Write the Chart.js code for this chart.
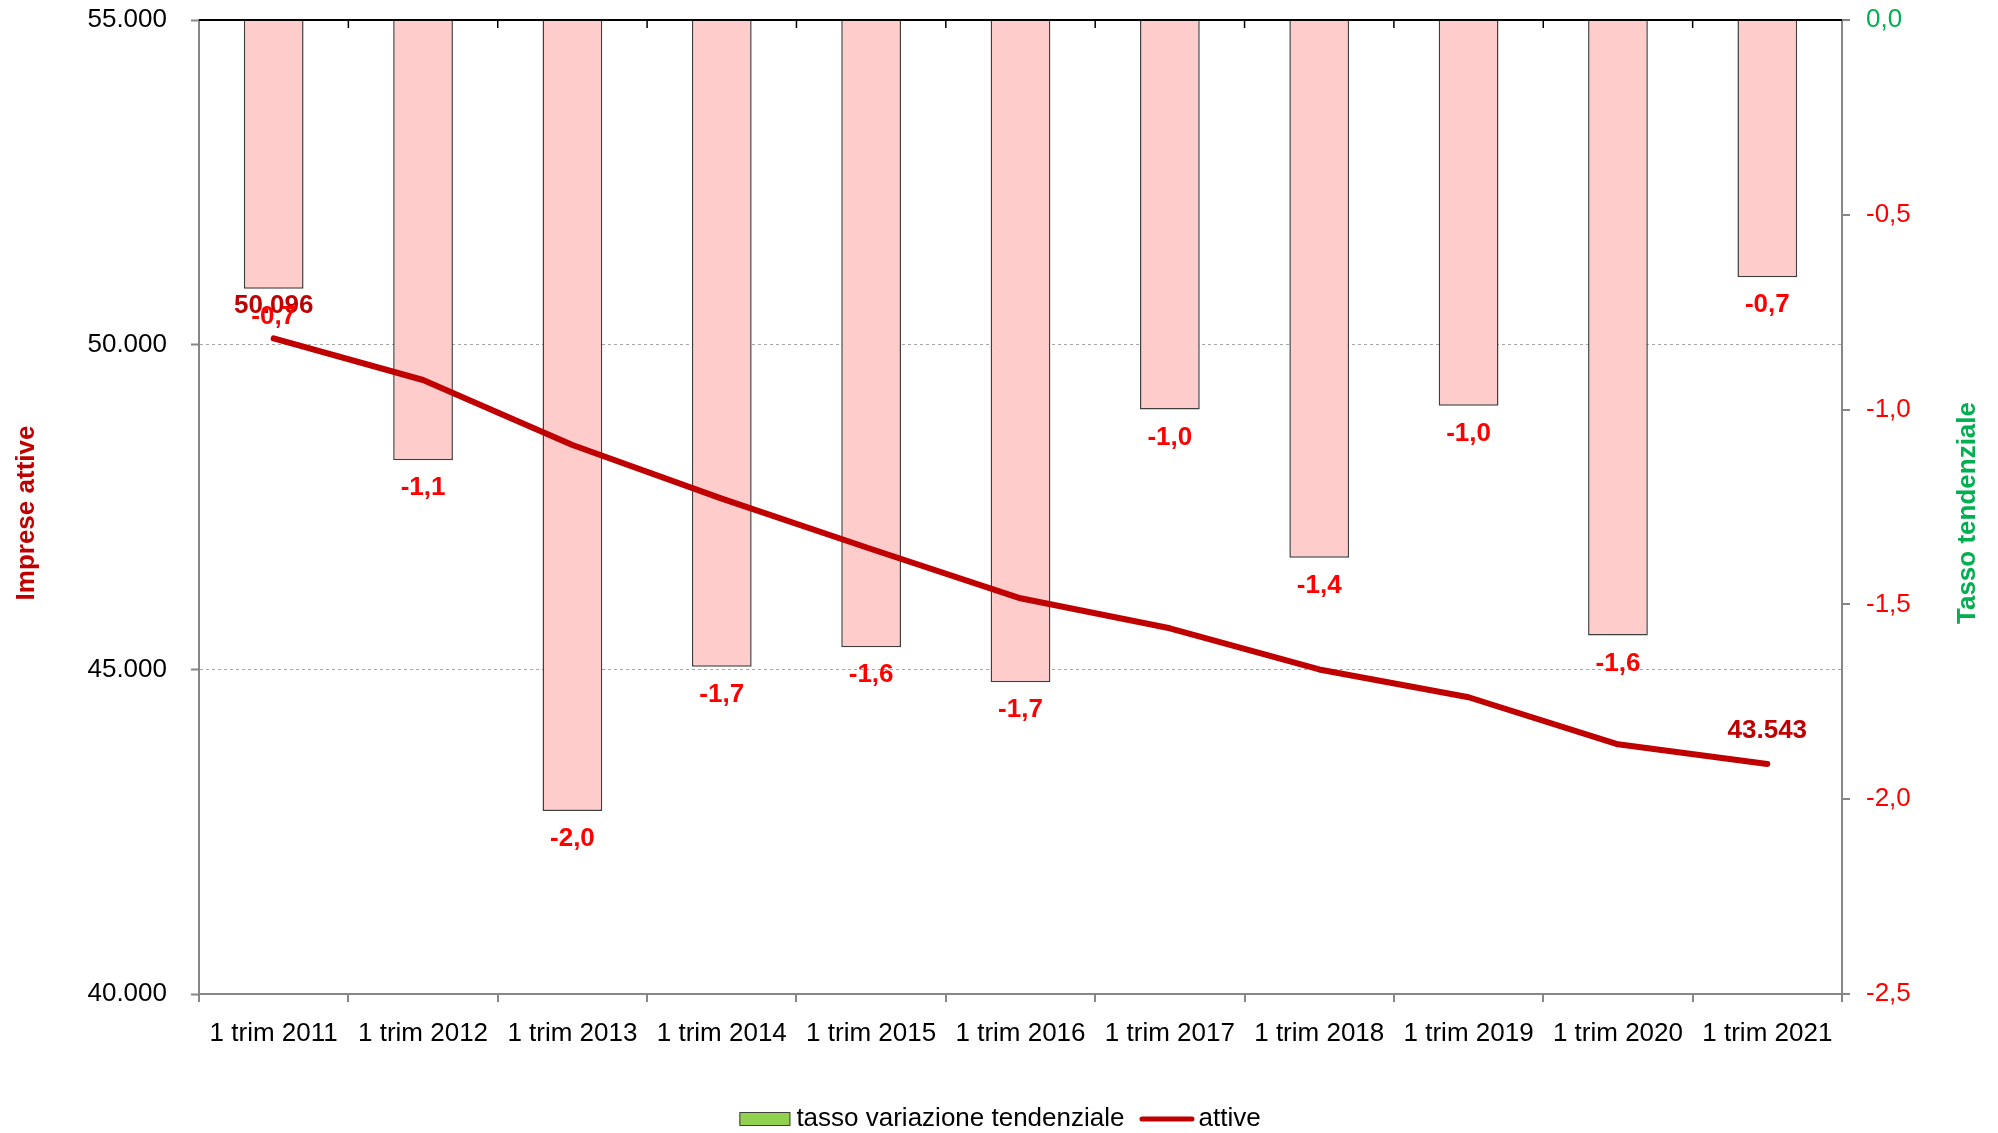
<!DOCTYPE html>
<html><head><meta charset="utf-8">
<script src="https://cdn.jsdelivr.net/npm/chart.js@4.4.1/dist/chart.umd.min.js"></script>
<style>html,body{margin:0;padding:0;background:#fff;}#wrap{width:1998px;height:1133px;}</style>
</head><body><div id="wrap"><canvas id="c" width="1998" height="1133"></canvas></div>
<script>
const categories = ['1 trim 2011','1 trim 2012','1 trim 2013','1 trim 2014','1 trim 2015','1 trim 2016','1 trim 2017','1 trim 2018','1 trim 2019','1 trim 2020','1 trim 2021'];
const tassoValues = [-0.69, -1.13, -2.03, -1.66, -1.61, -1.70, -1.00, -1.38, -0.99, -1.58, -0.66];
const attiveValues = [50096, 49456, 48455, 47630, 46853, 46094, 45632, 44998, 44570, 43846, 43543];
const leftTicks = [40000, 45000, 50000, 55000];
const rightTicks = [-2.5, -2, -1.5, -1, -0.5, 0];
const seriesNames = ['tasso variazione tendenziale', 'attive'];
const axisTitles = ['Imprese attive', 'Tasso tendenziale'];
const attiveLabelIndexes = [0, 10];

const FONT = "'Liberation Sans', Arial, Helvetica, sans-serif";
Chart.defaults.font.family = FONT;

const fmtThousands = v => String(Math.round(v)).replace(/\B(?=(\d{3})+(?!\d))/g, '.');
const fmtDec = v => (Math.abs(v) < 1e-9 ? 0 : v).toFixed(1).replace('.', ',');

const decor = {
  id: 'decor',
  afterDatasetsDraw(chart) {
    const ctx = chart.ctx, a = chart.chartArea;
    const xs = chart.scales.x;
    const w = xs.getPixelForValue(1) - xs.getPixelForValue(0);
    ctx.save();
    ctx.strokeStyle = '#000'; ctx.lineWidth = 2;
    ctx.beginPath(); ctx.moveTo(a.left, a.top); ctx.lineTo(a.right, a.top); ctx.stroke();
    ctx.lineWidth = 1.5;
    for (let i = 1; i < categories.length; i++) {
      const bx = xs.getPixelForValue(0) - w / 2 + i * w;
      ctx.beginPath(); ctx.moveTo(bx, a.top); ctx.lineTo(bx, a.top + 8); ctx.stroke();
    }
    ctx.restore();

    ctx.save();
    ctx.font = 'bold 26px ' + FONT;
    ctx.textAlign = 'center'; ctx.textBaseline = 'middle';
    ctx.fillStyle = '#C00000';
    const lineMeta = chart.getDatasetMeta(1);
    attiveLabelIndexes.forEach(i => {
      const p = lineMeta.data[i];
      ctx.fillText(fmtThousands(attiveValues[i]), p.x, p.y - 33);
    });
    ctx.fillStyle = '#FF0000';
    const barMeta = chart.getDatasetMeta(0);
    barMeta.data.forEach((b, i) => {
      ctx.fillText(fmtDec(tassoValues[i]), b.x, b.y + 28);
    });
    ctx.restore();
  },
  afterDraw(chart) {
    const ctx = chart.ctx, a = chart.chartArea;
    const cy = (a.top + a.bottom) / 2 + 6;
    ctx.save();
    ctx.font = 'bold 26px ' + FONT;
    ctx.textAlign = 'center'; ctx.textBaseline = 'middle';
    ctx.fillStyle = '#C00000';
    ctx.translate(27, cy); ctx.rotate(-Math.PI / 2); ctx.fillText(axisTitles[0], 0, 0);
    ctx.restore();
    ctx.save();
    ctx.font = 'bold 26px ' + FONT;
    ctx.textAlign = 'center'; ctx.textBaseline = 'middle';
    ctx.fillStyle = '#00B050';
    ctx.translate(1968, cy); ctx.rotate(-Math.PI / 2); ctx.fillText(axisTitles[1], 0, 0);
    ctx.restore();

    ctx.save();
    ctx.font = '26px ' + FONT;
    ctx.textBaseline = 'middle';
    const w1 = ctx.measureText(seriesNames[0]).width;
    const w2 = ctx.measureText(seriesNames[1]).width;
    const boxW = 51, gap1 = 6, gap2 = 15, lineW = 55, gap3 = 4;
    const total = boxW + gap1 + w1 + gap2 + lineW + gap3 + w2;
    let x = 1000 - total / 2;
    const y = 1119;
    ctx.fillStyle = '#92D050'; ctx.strokeStyle = '#404040'; ctx.lineWidth = 1;
    ctx.fillRect(x, y - 6.5, boxW, 13); ctx.strokeRect(x + 0.5, y - 6.5, boxW - 1, 13);
    x += boxW + gap1;
    ctx.fillStyle = '#000'; ctx.textAlign = 'left';
    ctx.fillText(seriesNames[0], x, y);
    x += w1 + gap2;
    ctx.strokeStyle = '#C00000'; ctx.lineWidth = 5; ctx.lineCap = 'round';
    ctx.beginPath(); ctx.moveTo(x + 2.5, y); ctx.lineTo(x + lineW - 2.5, y); ctx.stroke();
    x += lineW + gap3;
    ctx.fillStyle = '#000';
    ctx.fillText(seriesNames[1], x, y);
    ctx.restore();
  }
};

new Chart(document.getElementById('c'), {
  type: 'bar',
  data: {
    labels: categories,
    datasets: [
      { type: 'bar', label: seriesNames[0], data: tassoValues, yAxisID: 'y1',
        backgroundColor: '#FFCCCC', borderColor: '#3F3F3F', borderWidth: 1.5,
        barPercentage: 0.4, categoryPercentage: 1, order: 2 },
      { type: 'line', label: seriesNames[1], data: attiveValues, yAxisID: 'y',
        borderColor: '#C00000', borderWidth: 6, pointRadius: 0, pointHoverRadius: 0,
        tension: 0, borderCapStyle: 'round', borderJoinStyle: 'round', fill: false, order: 1 }
    ]
  },
  options: {
    responsive: false, animation: false, devicePixelRatio: 1,
    layout: { padding: { top: 20, left: 0, right: 0, bottom: 0 } },
    plugins: { legend: { display: false }, tooltip: { enabled: false } },
    scales: {
      x: {
        position: 'bottom', offset: true,
        grid: { offset: true, drawOnChartArea: false, drawTicks: true, tickLength: 8, color: '#868686', lineWidth: 2 },
        border: { color: '#868686', width: 2 },
        ticks: { color: '#000', font: { size: 26 }, padding: 16, maxRotation: 0, minRotation: 0, autoSkip: false },
        afterFit(s) { s.height = 139; s.paddingLeft = 0; s.paddingRight = 0; }
      },
      y: {
        position: 'left', min: 40000, max: 55000,
        afterBuildTicks(s) { s.ticks = leftTicks.map(v => ({ value: v })); },
        grid: {
          drawOnChartArea: true, drawTicks: true, tickLength: 8,
          color: c => (c.tick && (c.tick.value === 45000 || c.tick.value === 50000)) ? '#A6A6A6' : 'rgba(0,0,0,0)',
          tickColor: '#868686', tickWidth: 2, lineWidth: 1
        },
        border: { color: '#868686', width: 2, dash: [3, 3] },
        ticks: { color: '#000', font: { size: 26 }, padding: 24, callback: v => fmtThousands(v) },
        afterFit(s) { s.width = 199; s.paddingTop = 0; s.paddingBottom = 0; }
      },
      y1: {
        position: 'right', min: -2.5, max: 0,
        afterBuildTicks(s) { s.ticks = rightTicks.map(v => ({ value: v })); },
        grid: { drawOnChartArea: false, drawTicks: true, tickLength: 8, color: '#868686', lineWidth: 2 },
        border: { color: '#868686', width: 2 },
        ticks: { font: { size: 26 }, padding: 16,
          color: c => (c.tick && Math.abs(c.tick.value) < 1e-9) ? '#00B050' : '#FF0000',
          callback: v => fmtDec(v) },
        afterFit(s) { s.width = 156; s.paddingTop = 0; s.paddingBottom = 0; }
      }
    }
  },
  plugins: [decor]
});
</script>
</body></html>
